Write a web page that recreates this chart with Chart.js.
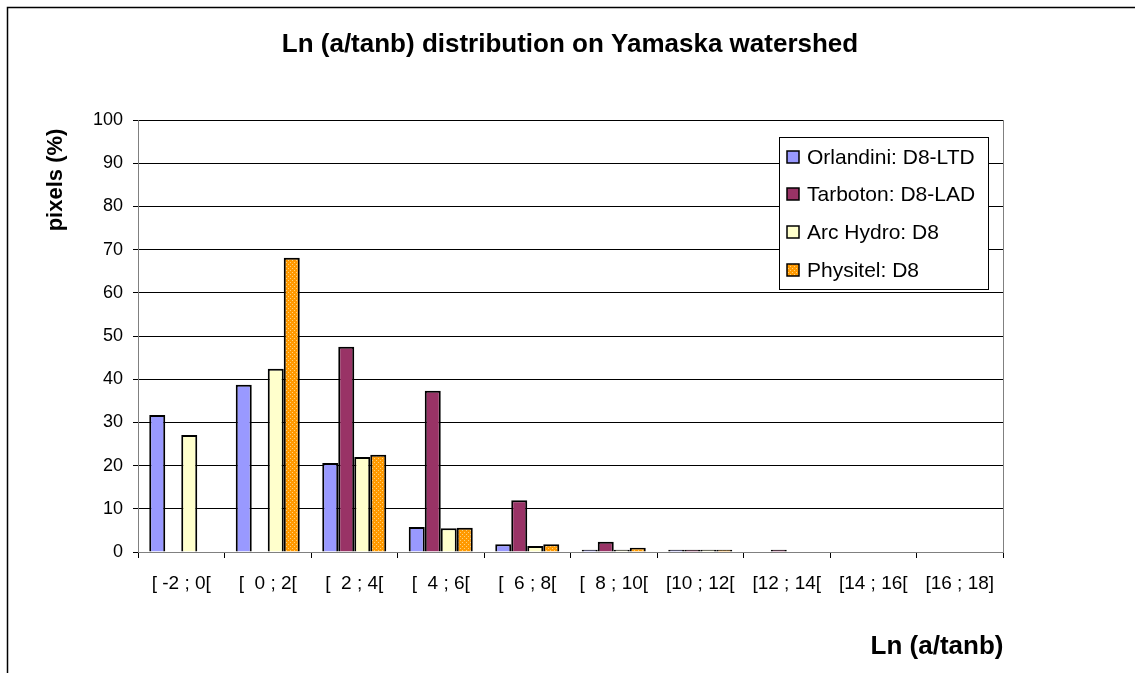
<!DOCTYPE html>
<html>
<head>
<meta charset="utf-8">
<script src="https://cdn.jsdelivr.net/npm/chart.js@4.4.0/dist/chart.umd.min.js"></script>
<style>
  html, body { margin: 0; padding: 0; background: #fff; }
  #wrap { position: relative; width: 1135px; height: 673px; }
</style>
</head>
<body>
<div id="wrap"><canvas id="c" width="1135" height="673"></canvas></div>
<script>
const categories = ['[ -2 ; 0[', '[  0 ; 2[', '[  2 ; 4[', '[  4 ; 6[', '[  6 ; 8[', '[  8 ; 10[', '[10 ; 12[', '[12 ; 14[', '[14 ; 16[', '[16 ; 18]'];
const orlandini = [31.7, 38.7, 20.6, 5.8, 1.8, 0.5, 0.5, 0, 0, 0];
const tarboton  = [0, 0, 47.5, 37.3, 12.0, 2.4, 0.5, 0.5, 0, 0];
const arcHydro  = [27.1, 42.4, 22.0, 5.5, 1.4, 0.5, 0.5, 0, 0, 0];
const physitel  = [0, 68.1, 22.5, 5.6, 1.8, 1.0, 0.5, 0, 0, 0];
const yTicks = [0, 10, 20, 30, 40, 50, 60, 70, 80, 90, 100];

const FONT = "'Liberation Sans', Arial, sans-serif";

function makePattern() {
  const p = document.createElement('canvas');
  p.width = 4; p.height = 4;
  const g = p.getContext('2d');
  g.fillStyle = '#FF9900';
  g.fillRect(0, 0, 4, 4);
  g.fillStyle = '#FFD27A';
  g.fillRect(0, 0, 1, 1);
  g.fillRect(2, 2, 1, 1);
  return g.createPattern(p, 'repeat');
}
const orangePattern = makePattern();

const decor = {
  id: 'decor',
  beforeDraw(chart) {
    const ctx = chart.ctx;
    ctx.save();
    ctx.fillStyle = '#fff';
    ctx.fillRect(0, 0, chart.width, chart.height);
    ctx.restore();
  },
  afterDraw(chart) {
    const ctx = chart.ctx;
    const a = chart.chartArea;
    ctx.save();
    // outer frame
    ctx.strokeStyle = '#000';
    ctx.lineWidth = 1.5;
    ctx.beginPath();
    ctx.moveTo(7.5, 700); ctx.lineTo(7.5, 7.5); ctx.lineTo(1140, 7.5);
    ctx.stroke();
    // plot area right border
    ctx.strokeStyle = '#808080';
    ctx.lineWidth = 1;
    ctx.beginPath();
    ctx.moveTo(a.right + 0.5, a.top); ctx.lineTo(a.right + 0.5, a.bottom);
    ctx.stroke();
    // title
    ctx.fillStyle = '#000';
    ctx.textAlign = 'center';
    ctx.textBaseline = 'middle';
    ctx.font = 'bold 26px ' + FONT;
    ctx.fillText('Ln (a/tanb) distribution on Yamaska watershed', 570, 45);
    // y axis title
    ctx.save();
    ctx.translate(56, 180);
    ctx.rotate(-Math.PI / 2);
    ctx.font = 'bold 22px ' + FONT;
    ctx.fillText('pixels (%)', 0, 0);
    ctx.restore();
    // x axis title
    ctx.font = 'bold 26px ' + FONT;
    ctx.textAlign = 'center';
    ctx.fillText('Ln (a/tanb)', 937, 647);
    // legend
    const lx = 779, ly = 137, lw = 209, lh = 152;
    ctx.fillStyle = '#fff';
    ctx.fillRect(lx, ly, lw, lh);
    ctx.strokeStyle = '#000';
    ctx.lineWidth = 1;
    ctx.strokeRect(lx + 0.5, ly + 0.5, lw, lh);
    const rows = [157, 194, 232, 270];
    ctx.font = '21px ' + FONT;
    ctx.textAlign = 'left';
    chart.data.datasets.forEach((ds, i) => {
      const y = rows[i];
      ctx.fillStyle = ds.backgroundColor;
      ctx.fillRect(787, y - 6, 12, 12);
      ctx.strokeStyle = '#000';
      ctx.lineWidth = 1.5;
      ctx.strokeRect(787, y - 6, 12, 12);
      ctx.fillStyle = '#000';
      ctx.fillText(ds.label, 807, y + 1);
    });
    ctx.restore();
  }
};

new Chart(document.getElementById('c'), {
  type: 'bar',
  data: {
    labels: categories,
    datasets: [
      { label: 'Orlandini: D8-LTD', data: orlandini, backgroundColor: '#9999FF' },
      { label: 'Tarboton: D8-LAD', data: tarboton, backgroundColor: '#993366' },
      { label: 'Arc Hydro: D8', data: arcHydro, backgroundColor: '#FFFFCC' },
      { label: 'Physitel: D8', data: physitel, backgroundColor: orangePattern }
    ]
  },
  options: {
    responsive: false,
    animation: false,
    events: [],
    layout: { padding: { left: 0, top: 120, right: 132, bottom: 0 } },
    datasets: {
      bar: {
        borderColor: '#000',
        borderWidth: 2,
        borderSkipped: 'bottom',
        categoryPercentage: 0.74,
        barPercentage: 1.0
      }
    },
    plugins: {
      legend: { display: false },
      title: { display: false },
      tooltip: { enabled: false }
    },
    scales: {
      x: {
        grid: { display: true, drawOnChartArea: false, drawTicks: true, tickLength: 6, color: '#000', offset: true },
        border: { display: true, color: '#808080', width: 1 },
        ticks: { color: '#000', font: { family: FONT, size: 19 }, padding: 14, maxRotation: 0, autoSkip: false },
        afterFit(scale) { scale.height = 121; }
      },
      y: {
        min: 0, max: 100,
        afterBuildTicks(scale) { scale.ticks = yTicks.map(v => ({ value: v })); },
        grid: { color: '#000', lineWidth: 1, drawTicks: true, tickLength: 5 },
        border: { display: true, color: '#808080', width: 1 },
        ticks: { color: '#000', font: { family: FONT, size: 18 }, padding: 10 },
        afterFit(scale) { scale.width = 138; }
      }
    }
  },
  plugins: [decor]
});
</script>
</body>
</html>
